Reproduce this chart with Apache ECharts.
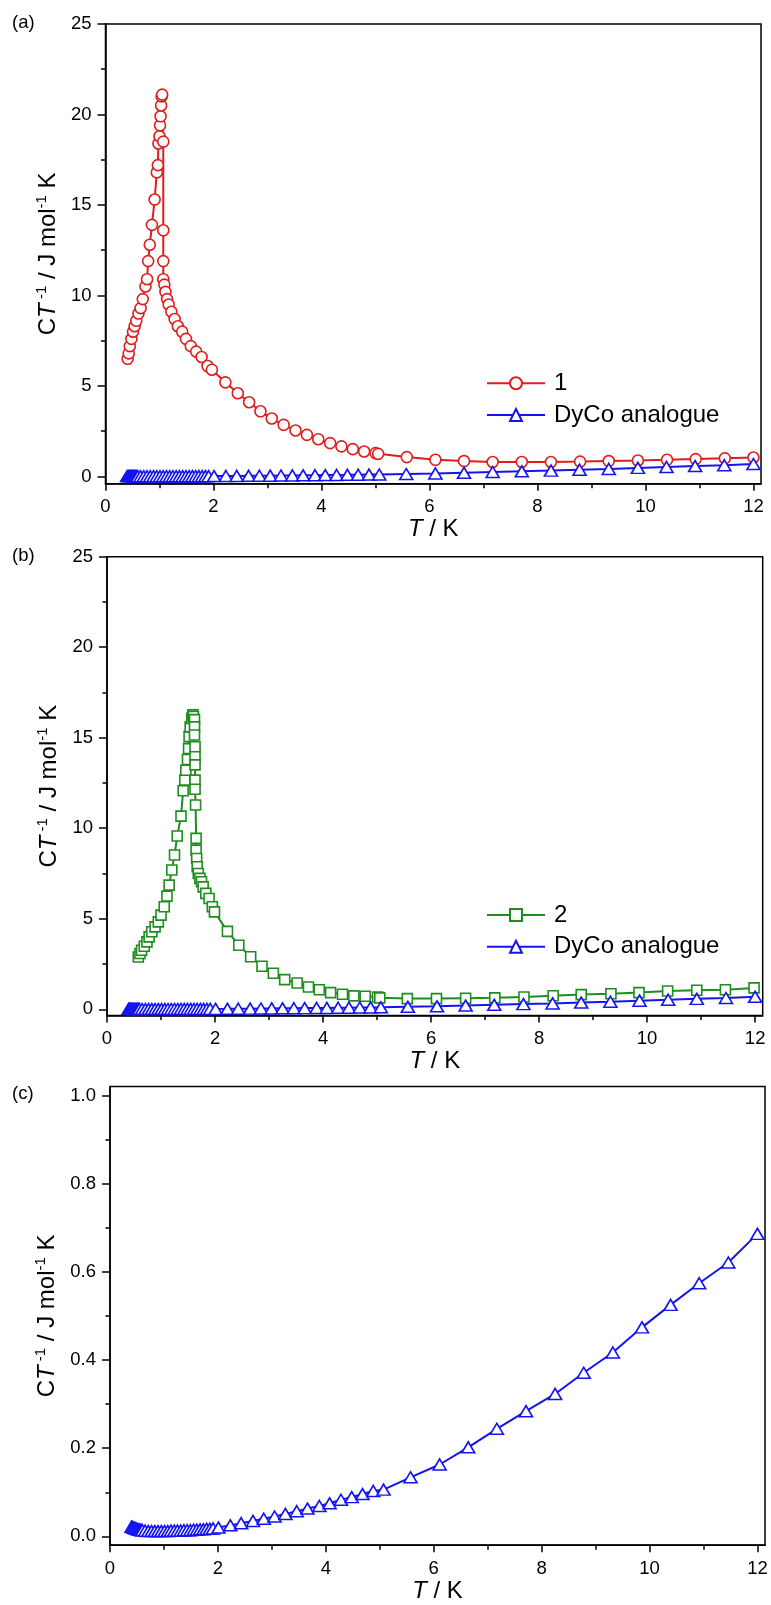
<!DOCTYPE html>
<html><head><meta charset="utf-8">
<script src="https://cdn.jsdelivr.net/npm/echarts@6/dist/echarts.min.js"></script>
<style>html,body{margin:0;padding:0;background:#fff}#c{width:771px;height:1605px}</style>
</head><body><div id="c"></div>
<script>
// Sample 1 (panel a)
const T1=[0.41,0.43,0.45,0.48,0.51,0.54,0.57,0.61,0.65,0.69,0.74,0.77,0.79,0.82,0.86,0.91,0.95,0.97,0.98,1.00,1.01,1.02,1.03,1.04,1.05,1.07,1.07,1.07,1.07,1.09,1.11,1.14,1.17,1.22,1.28,1.34,1.42,1.49,1.58,1.68,1.78,1.89,1.97,2.22,2.45,2.66,2.87,3.08,3.30,3.52,3.73,3.94,4.16,4.37,4.58,4.79,5.00,5.05,5.58,6.11,6.64,7.17,7.71,8.25,8.79,9.32,9.86,10.40,10.93,11.47,12.00];
const C1=[6.5,6.8,7.2,7.6,8.0,8.3,8.6,9.0,9.3,9.8,10.5,10.9,11.9,12.8,13.9,15.3,16.8,17.2,18.4,18.8,19.4,19.9,20.5,21.0,21.1,18.5,13.6,11.9,10.9,10.6,10.2,9.8,9.5,9.1,8.7,8.3,8.0,7.6,7.2,6.9,6.6,6.1,5.9,5.2,4.6,4.1,3.6,3.2,2.85,2.54,2.30,2.06,1.84,1.66,1.51,1.38,1.29,1.25,1.07,0.92,0.85,0.80,0.80,0.80,0.82,0.85,0.88,0.92,0.96,1.0,1.05];
// Sample 2 (panel b)
const T2=[0.58,0.61,0.64,0.69,0.74,0.78,0.83,0.89,0.95,1.00,1.06,1.11,1.15,1.20,1.25,1.30,1.37,1.41,1.44,1.46,1.49,1.51,1.52,1.54,1.57,1.59,1.60,1.62,1.62,1.62,1.63,1.63,1.63,1.63,1.63,1.64,1.65,1.65,1.66,1.67,1.69,1.72,1.75,1.78,1.83,1.89,1.95,1.99,2.23,2.44,2.66,2.87,3.08,3.29,3.52,3.73,3.93,4.14,4.36,4.57,4.78,5.01,5.05,5.56,6.10,6.64,7.18,7.72,8.26,8.78,9.33,9.85,10.38,10.92,11.45,11.98];
const C2=[2.89,3.08,3.26,3.48,3.72,4.0,4.28,4.55,4.83,5.2,5.66,6.25,6.86,7.69,8.52,9.57,10.67,12.07,12.66,13.2,13.8,14.4,15.06,15.6,16.07,16.26,16.17,16.0,15.6,15.15,14.5,13.95,13.5,12.66,12.15,11.28,9.44,8.79,8.33,7.87,7.5,7.23,7.04,6.76,6.4,6.12,5.66,5.38,4.3,3.54,2.9,2.38,1.99,1.64,1.45,1.23,1.08,0.92,0.83,0.74,0.72,0.68,0.63,0.59,0.59,0.61,0.63,0.68,0.75,0.81,0.86,0.92,1.01,1.05,1.08,1.18];
// DyCo analogue (all panels)
const Tdy=[0.40,0.42,0.44,0.46,0.48,0.50,0.52,0.54,0.56,0.58,0.60,0.65,0.71,0.77,0.83,0.89,0.95,1.01,1.07,1.13,1.19,1.25,1.31,1.37,1.43,1.49,1.55,1.61,1.67,1.73,1.79,1.85,1.91,2.01,2.23,2.43,2.65,2.85,3.05,3.25,3.46,3.66,3.88,4.07,4.28,4.48,4.68,4.88,5.07,5.57,6.11,6.64,7.17,7.71,8.25,8.78,9.32,9.86,10.39,10.92,11.46,12.0];
const Cdy=[0.022,0.021,0.020,0.019,0.018,0.017,0.016,0.015,0.015,0.014,0.014,0.013,0.012,0.012,0.012,0.012,0.012,0.012,0.012,0.013,0.013,0.013,0.013,0.014,0.014,0.014,0.015,0.015,0.016,0.016,0.017,0.017,0.018,0.020,0.025,0.030,0.035,0.040,0.045,0.051,0.057,0.063,0.069,0.075,0.083,0.089,0.096,0.103,0.106,0.134,0.163,0.202,0.244,0.284,0.323,0.371,0.417,0.474,0.525,0.574,0.621,0.686];
// Tick values
const xMajor=[0,2,4,6,8,10,12];
const xMinor=[1,3,5,7,9,11];
const yMajorAB=[0,5,10,15,20,25];
const yMinorAB=[2.5,7.5,12.5,17.5,22.5];
const yMajorC=[0,0.2,0.4,0.6,0.8,1.0];
const yMinorC=[0.1,0.3,0.5,0.7,0.9];
const panelLabels=['(a)','(b)','(c)'];

const FONT="'Liberation Sans', Arial, sans-serif";
const RED='#e01c1c', GREEN='#1f8c1f', BLUE='#1414f0';
const zip=(a,b)=>a.map((v,i)=>[v,b[i]]);

const grids=[
  {left:105.5, top:24, width:655.5, height:459.7},
  {left:107, top:556.7, width:655.7, height:458.9},
  {left:110, top:1086.6, width:655, height:458.6}
];
const yRanges=[[-0.4,25],[-0.35,25],[-0.02,1.02]];
const richName={
  n:{fontSize:24,fontFamily:FONT,color:'#000',lineHeight:28},
  i:{fontSize:24,fontFamily:FONT,color:'#000',fontStyle:'italic',lineHeight:28},
  s:{fontSize:15,fontFamily:FONT,color:'#000',verticalAlign:'top',lineHeight:28}
};
const xAxes=[],yAxes=[];
grids.forEach((g,gi)=>{
  const major=gi<2?yMajorAB:yMajorC, minor=gi<2?yMinorAB:yMinorC;
  xAxes.push({gridIndex:gi,type:'value',position:'bottom',min:0,max:12.14,
    axisLine:{show:true,onZero:false,lineStyle:{color:'#000',width:1.5}},
    axisTick:{show:true,customValues:xMajor,length:7,lineStyle:{color:'#000',width:1.5}},
    axisLabel:{customValues:xMajor,margin:14,color:'#000',fontSize:18.5,fontFamily:FONT},
    splitLine:{show:false},
    name:'{i|T}{n| / K}',nameLocation:'middle',nameGap:32,
    nameTextStyle:{rich:richName}});
  xAxes.push({gridIndex:gi,type:'value',position:'bottom',min:0,max:12.14,
    axisLine:{show:false,onZero:false},
    axisTick:{show:true,customValues:xMinor,length:4.5,lineStyle:{color:'#000',width:1.5}},
    axisLabel:{show:false},splitLine:{show:false}});
  yAxes.push({gridIndex:gi,type:'value',position:'left',min:yRanges[gi][0],max:yRanges[gi][1],
    axisLine:{show:true,onZero:false,lineStyle:{color:'#000',width:1.5}},
    axisTick:{show:true,customValues:major,length:8,lineStyle:{color:'#000',width:1.5}},
    axisLabel:{customValues:major,margin:14,color:'#000',fontSize:18.5,fontFamily:FONT,
      formatter:v=>gi<2?String(v):v.toFixed(1)},
    splitLine:{show:false},
    name:'{n|C}{i|T}{s| -1}{n| / J mol}{s|-1}{n| K}',nameLocation:'middle',nameRotate:90,nameGap:41,
    nameTextStyle:{rich:richName}});
  yAxes.push({gridIndex:gi,type:'value',position:'left',min:yRanges[gi][0],max:yRanges[gi][1],
    axisLine:{show:false,onZero:false},
    axisTick:{show:true,customValues:minor,length:4.5,lineStyle:{color:'#000',width:1.5}},
    axisLabel:{show:false},splitLine:{show:false}});
});

function mk(name,gi,data,color,symbol,size){
  return {type:'line',name,xAxisIndex:2*gi,yAxisIndex:2*gi,data,
    symbol,symbolSize:size,showSymbol:true,showAllSymbol:true,
    lineStyle:{color,width:2},
    itemStyle:{color:'#fff',borderColor:color,borderWidth:1.6},
    emphasis:{disabled:true},animation:false};
}
const series=[
  mk('1',0,zip(T1,C1),RED,'circle',11),
  mk('DyCo analogue',0,zip(Tdy,Cdy),BLUE,'triangle',[13,11]),
  mk('2',1,zip(T2,C2),GREEN,'rect',10),
  mk('DyCo analogue',1,zip(Tdy,Cdy),BLUE,'triangle',[13,11]),
  mk('DyCo analogue',2,zip(Tdy,Cdy),BLUE,'triangle',[13,11])
];
const legendCommon={orient:'vertical',left:486,itemWidth:58,itemHeight:15,itemGap:7.7,padding:0,selectedMode:false,
  textStyle:{fontSize:24,lineHeight:24,color:'#000',fontFamily:FONT,padding:[0,0,0,4]}};
const chart=echarts.init(document.getElementById('c'),null,{renderer:'canvas'});
chart.setOption({
  animation:false,backgroundColor:'#fff',
  grid:grids.map(g=>Object.assign({show:true,borderColor:'#000',borderWidth:1.5,backgroundColor:'transparent',outerBoundsMode:'none',containLabel:false},g)),
  xAxis:xAxes,yAxis:yAxes,series,
  legend:[Object.assign({data:['1','DyCo analogue'],top:371.3},legendCommon),
          Object.assign({data:['2','DyCo analogue'],top:903},legendCommon)],
  graphic:panelLabels.map((t,i)=>({type:'text',left:12,top:[13.5,546,1084.5][i],
    style:{text:t,font:'18.5px '+FONT,fill:'#000'}}))
});
</script></body></html>
